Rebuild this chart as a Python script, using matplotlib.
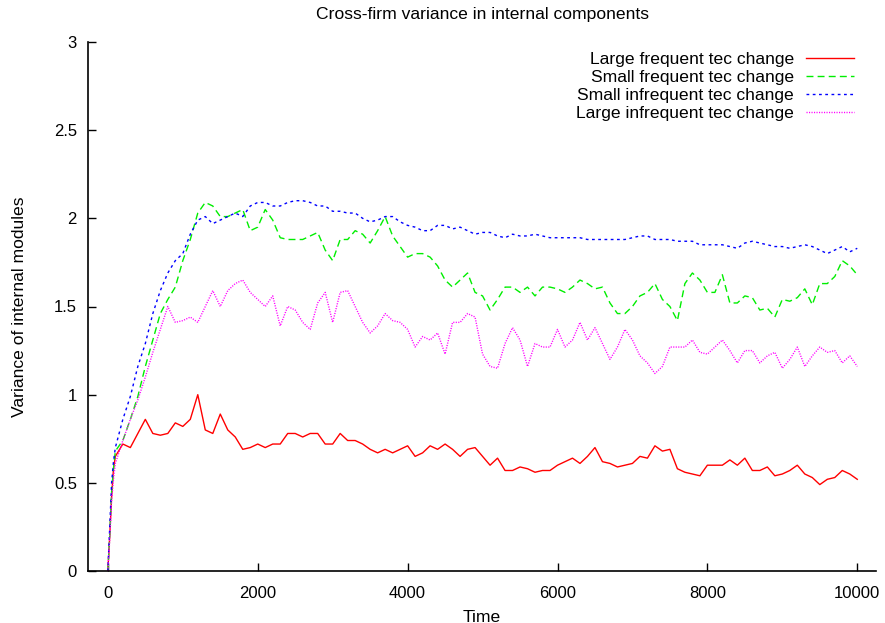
import numpy as np
import matplotlib
matplotlib.use('Agg')
import matplotlib.pyplot as plt

plt.rcParams['font.family'] = ['Liberation Sans', 'DejaVu Sans']

# time steps: a few early samples, then every 100
time = np.concatenate([[0, 25, 50, 75], np.arange(100, 10001, 100)])

large_freq = [0.0, 0.2, 0.42, 0.58,
              0.65, 0.72, 0.70, 0.78, 0.86, 0.78, 0.77, 0.78, 0.84, 0.82,
              0.86, 1.00, 0.80, 0.78, 0.89, 0.80, 0.76, 0.69, 0.70, 0.72,
              0.70, 0.72, 0.72, 0.78, 0.78, 0.76, 0.78, 0.78, 0.72, 0.72,
              0.78, 0.74, 0.74, 0.72, 0.69, 0.67, 0.69, 0.67, 0.69, 0.71,
              0.65, 0.67, 0.71, 0.69, 0.72, 0.69, 0.65, 0.69, 0.70, 0.65,
              0.60, 0.64, 0.57, 0.57, 0.59, 0.58, 0.56, 0.57, 0.57, 0.60,
              0.62, 0.64, 0.61, 0.65, 0.70, 0.62, 0.61, 0.59, 0.60, 0.61,
              0.65, 0.64, 0.71, 0.68, 0.69, 0.58, 0.56, 0.55, 0.54, 0.60,
              0.60, 0.60, 0.63, 0.60, 0.64, 0.57, 0.57, 0.59, 0.54, 0.55,
              0.57, 0.60, 0.55, 0.53, 0.49, 0.52, 0.53, 0.57, 0.55, 0.52]

small_freq = [0.0, 0.2, 0.45, 0.58,
              0.68, 0.74, 0.86, 0.99, 1.16, 1.31, 1.46, 1.54, 1.61, 1.76,
              1.88, 2.03, 2.09, 2.07, 2.01, 2.01, 2.03, 2.05, 1.93, 1.95,
              2.05, 1.99, 1.89, 1.88, 1.88, 1.88, 1.90, 1.92, 1.82, 1.76,
              1.88, 1.88, 1.93, 1.91, 1.86, 1.93, 2.01, 1.90, 1.84, 1.78,
              1.80, 1.80, 1.78, 1.73, 1.65, 1.61, 1.65, 1.69, 1.58, 1.56,
              1.48, 1.54, 1.61, 1.61, 1.58, 1.61, 1.56, 1.61, 1.61, 1.60,
              1.58, 1.61, 1.65, 1.63, 1.60, 1.61, 1.52, 1.46, 1.46, 1.50,
              1.56, 1.58, 1.63, 1.54, 1.50, 1.42, 1.63, 1.69, 1.65, 1.58,
              1.58, 1.68, 1.52, 1.52, 1.56, 1.55, 1.48, 1.49, 1.44, 1.54,
              1.53, 1.55, 1.60, 1.51, 1.63, 1.63, 1.67, 1.76, 1.73, 1.68]

small_infreq = [0.0, 0.25, 0.5, 0.62,
                0.70, 0.86, 0.99, 1.16, 1.29, 1.46, 1.59, 1.69, 1.76, 1.80,
                1.91, 1.99, 2.01, 1.97, 1.99, 2.01, 2.03, 2.01, 2.07, 2.09,
                2.09, 2.07, 2.07, 2.09, 2.10, 2.10, 2.09, 2.07, 2.07, 2.04,
                2.04, 2.03, 2.03, 2.00, 1.98, 1.99, 2.01, 2.01, 1.98, 1.96,
                1.95, 1.93, 1.93, 1.96, 1.96, 1.94, 1.95, 1.93, 1.91, 1.92,
                1.92, 1.90, 1.89, 1.91, 1.90, 1.90, 1.91, 1.90, 1.89, 1.89,
                1.89, 1.89, 1.89, 1.88, 1.88, 1.88, 1.88, 1.88, 1.88, 1.89,
                1.90, 1.90, 1.88, 1.88, 1.88, 1.87, 1.87, 1.87, 1.85, 1.85,
                1.85, 1.85, 1.84, 1.83, 1.86, 1.87, 1.86, 1.85, 1.84, 1.84,
                1.83, 1.84, 1.85, 1.84, 1.82, 1.80, 1.82, 1.84, 1.81, 1.83]

large_infreq = [0.0, 0.18, 0.4, 0.52,
                0.61, 0.74, 0.86, 0.97, 1.10, 1.24, 1.37, 1.50, 1.41, 1.42,
                1.44, 1.41, 1.50, 1.59, 1.50, 1.59, 1.63, 1.65, 1.58, 1.54,
                1.50, 1.56, 1.39, 1.50, 1.48, 1.41, 1.37, 1.52, 1.58, 1.41,
                1.58, 1.59, 1.50, 1.41, 1.35, 1.39, 1.46, 1.42, 1.41, 1.37,
                1.27, 1.33, 1.31, 1.35, 1.23, 1.41, 1.41, 1.46, 1.44, 1.23,
                1.16, 1.15, 1.29, 1.38, 1.31, 1.16, 1.29, 1.27, 1.27, 1.37,
                1.27, 1.31, 1.41, 1.31, 1.38, 1.29, 1.20, 1.27, 1.37, 1.31,
                1.22, 1.18, 1.12, 1.16, 1.27, 1.27, 1.27, 1.31, 1.24, 1.23,
                1.27, 1.31, 1.25, 1.18, 1.25, 1.25, 1.18, 1.22, 1.24, 1.15,
                1.20, 1.27, 1.16, 1.22, 1.27, 1.24, 1.25, 1.18, 1.22, 1.16]

labels = ['Large frequent tec change', 'Small frequent tec change',
          'Small infrequent tec change', 'Large infrequent tec change']

fig = plt.figure(figsize=(8.85, 6.23), dpi=100)
ax = fig.add_axes([88 / 885, 52 / 623, 788 / 885, 529 / 623])

ax.plot(time, large_freq, color='#ff0000', lw=1.0, label=labels[0])
ax.plot(time, small_freq, color='#00ee00', lw=1.0, dashes=(5, 3), label=labels[1])
ax.plot(time, small_infreq, color='#0000ff', lw=1.0, dashes=(2, 2.5), label=labels[2])
ax.plot(time, large_infreq, color='#ff00ff', lw=1.0, dashes=(0.8, 1.0), label=labels[3])

ax.set_xlim(-265, 10250)
ax.set_ylim(0, 3)
ax.set_xticks([0, 2000, 4000, 6000, 8000, 10000])
ax.set_yticks([0, 0.5, 1, 1.5, 2, 2.5, 3])
ax.set_yticklabels(['0', '0.5', '1', '1.5', '2', '2.5', '3'])
for s in ['top', 'right']:
    ax.spines[s].set_visible(False)
for s in ['left', 'bottom']:
    ax.spines[s].set_linewidth(1.2)
ax.tick_params(direction='in', length=6, width=1, labelsize=12)
ax.tick_params(axis='x', pad=11)
ax.tick_params(axis='y', pad=8)

ax.set_xlabel('Time', fontsize=12.6, labelpad=6)
ax.set_ylabel('Variance of internal modules', fontsize=12.6, labelpad=19)
fig.text(482 / 885, 1 - 15 / 623, 'Cross-firm variance in internal components',
         ha='center', va='center', fontsize=12.6)

ax.legend(loc='upper right', bbox_to_anchor=(0.985, 1.002), frameon=False,
          markerfirst=False, fontsize=12.6, handlelength=2.7,
          handletextpad=0.7, labelspacing=0.17, borderaxespad=0.2)

plt.savefig('out.png', dpi=100)
